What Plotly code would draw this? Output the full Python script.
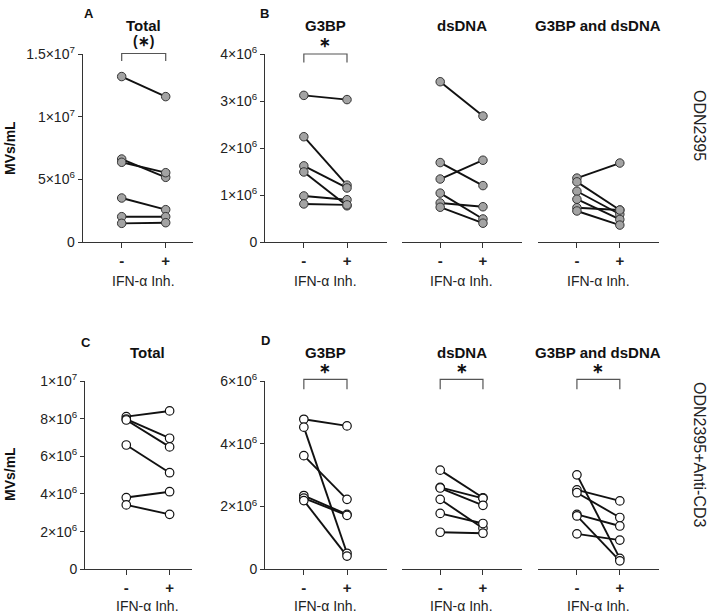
import plotly.graph_objects as go

W, H = 708, 615

# ---------------- data ----------------
categories = ["-", "+"]
cat_pos = [0, 1]

# Row 1: ODN2395 (filled markers)
odn_total_minus = [13.2e6, 6.62e6, 6.36e6, 3.51e6, 2.02e6, 1.49e6]
odn_total_plus = [11.6e6, 5.16e6, 5.53e6, 2.58e6, 2.02e6, 1.54e6]
odn_g3bp_minus = [3.12e6, 2.24e6, 1.62e6, 1.49e6, 0.98e6, 0.81e6]
odn_g3bp_plus = [3.03e6, 1.21e6, 1.15e6, 0.77e6, 0.90e6, 0.79e6]
odn_dsdna_minus = [3.41e6, 1.69e6, 1.34e6, 1.04e6, 0.83e6, 0.74e6]
odn_dsdna_plus = [2.68e6, 1.20e6, 1.74e6, 0.49e6, 0.75e6, 0.40e6]
odn_both_minus = [1.36e6, 1.28e6, 1.08e6, 0.91e6, 0.73e6, 0.66e6]
odn_both_plus = [1.68e6, 0.68e6, 0.59e6, 0.48e6, 0.68e6, 0.36e6]

# Row 2: ODN2395+Anti-CD3 (open markers)
cd3_total_minus = [8.11e6, 7.98e6, 7.93e6, 6.60e6, 3.81e6, 3.42e6]
cd3_total_plus = [8.41e6, 6.96e6, 6.50e6, 5.13e6, 4.12e6, 2.92e6]
cd3_g3bp_minus = [4.78e6, 4.53e6, 3.62e6, 2.35e6, 2.27e6, 2.19e6]
cd3_g3bp_plus = [4.57e6, 0.51e6, 2.23e6, 1.75e6, 1.72e6, 0.42e6]
cd3_dsdna_minus = [3.16e6, 2.61e6, 2.59e6, 2.23e6, 1.78e6, 1.18e6]
cd3_dsdna_plus = [2.28e6, 2.26e6, 2.04e6, 1.31e6, 1.46e6, 1.15e6]
cd3_both_minus = [3.01e6, 2.53e6, 2.44e6, 1.75e6, 1.70e6, 1.13e6]
cd3_both_plus = [0.35e6, 2.18e6, 1.65e6, 1.38e6, 0.27e6, 0.93e6]

panel_titles = ["Total", "G3BP", "dsDNA", "G3BP and dsDNA"]
row_labels = ["ODN2395", "ODN2395+Anti-CD3"]
x_title = "IFN-α Inh."
y_title = "MVs/mL"

ticks_A = [0, 5e6, 1e7, 1.5e7]
ticktext_A = ["0", "5×10<sup>6</sup>", "1×10<sup>7</sup>", "1.5×10<sup>7</sup>"]
ticks_B = [0, 1e6, 2e6, 3e6, 4e6]
ticktext_B = ["0", "1×10<sup>6</sup>", "2×10<sup>6</sup>", "3×10<sup>6</sup>", "4×10<sup>6</sup>"]
ticks_C = [0, 2e6, 4e6, 6e6, 8e6, 1e7]
ticktext_C = ["0", "2×10<sup>6</sup>", "4×10<sup>6</sup>", "6×10<sup>6</sup>", "8×10<sup>6</sup>", "1×10<sup>7</sup>"]
ticks_D = [0, 2e6, 4e6, 6e6]
ticktext_D = ["0", "2×10<sup>6</sup>", "4×10<sup>6</sup>", "6×10<sup>6</sup>"]

# ---------------- layout helpers ----------------
FONT = "Arial, Liberation Sans, sans-serif"
AX = "#333333"

def px_x(p):
    return p / W

def px_y(p):
    return 1 - p / H

row1_y = [px_y(242), px_y(54)]
row2_y = [px_y(569.3), px_y(381)]
rng_side = [-0.9, 1.92]

subplots = [
    # (minus, plus, xdomain px, xrange, ydomain, yrange, ticks, ticktext, show_y, filled)
    (odn_total_minus, odn_total_plus, (82.7, 193), [-0.886, 1.62], row1_y, [0, 1.5e7], ticks_A, ticktext_A, True, True),
    (odn_g3bp_minus, odn_g3bp_plus, (265, 386.7), rng_side, row1_y, [0, 4e6], ticks_B, ticktext_B, True, True),
    (odn_dsdna_minus, odn_dsdna_plus, (401.7, 522.3), rng_side, row1_y, [0, 4e6], ticks_B, ticktext_B, False, True),
    (odn_both_minus, odn_both_plus, (538.3, 659.3), rng_side, row1_y, [0, 4e6], ticks_B, ticktext_B, False, True),
    (cd3_total_minus, cd3_total_plus, (85, 191.7), [-0.953, 1.51], row2_y, [0, 1e7], ticks_C, ticktext_C, True, False),
    (cd3_g3bp_minus, cd3_g3bp_plus, (265, 386.7), rng_side, row2_y, [0, 6e6], ticks_D, ticktext_D, True, False),
    (cd3_dsdna_minus, cd3_dsdna_plus, (401.7, 522.3), rng_side, row2_y, [0, 6e6], ticks_D, ticktext_D, False, False),
    (cd3_both_minus, cd3_both_plus, (538.3, 659.3), rng_side, row2_y, [0, 6e6], ticks_D, ticktext_D, False, False),
]

fig = go.Figure()
layout = dict(
    width=W, height=H, autosize=False,
    margin=dict(l=0, r=0, t=0, b=0),
    paper_bgcolor="white", plot_bgcolor="white",
    showlegend=False,
    font=dict(family=FONT, color="#222222"),
)

annotations = []
shapes = []

def data_to_paper_x(x, dom_px, rng):
    d0, d1 = dom_px
    return (d0 + (x - rng[0]) / (rng[1] - rng[0]) * (d1 - d0)) / W

for i, (mn, pl, dom, xr, ydom, yr, tv, tt, show_y, filled) in enumerate(subplots):
    n = i + 1
    xa = "x" if n == 1 else f"x{n}"
    ya = "y" if n == 1 else f"y{n}"
    xkey = "xaxis" if n == 1 else f"xaxis{n}"
    ykey = "yaxis" if n == 1 else f"yaxis{n}"
    lx, ly = [], []
    mx, my = [], []
    for a, b in zip(mn, pl):
        lx += [cat_pos[0], cat_pos[1], None]
        ly += [a, b, None]
        mx += [cat_pos[0], cat_pos[1]]
        my += [a, b]
    fig.add_trace(go.Scatter(x=lx, y=ly, mode="lines", xaxis=xa, yaxis=ya,
                             line=dict(color="#111111", width=1.9), hoverinfo="skip"))
    if filled:
        marker = dict(size=8.5, color="#a3a3a3", line=dict(color="#333333", width=1))
    else:
        marker = dict(size=8.5, color="white", line=dict(color="#111111", width=1.2))
    fig.add_trace(go.Scatter(x=mx, y=my, mode="markers", xaxis=xa, yaxis=ya,
                             marker=marker, cliponaxis=False))
    layout[xkey] = dict(
        domain=[dom[0] / W, dom[1] / W], range=xr, anchor=ya,
        showline=True, linecolor=AX, linewidth=1, mirror=False,
        showgrid=False, zeroline=False, ticks="outside", ticklen=5, tickcolor=AX,
        tickvals=cat_pos, ticktext=["<b>%s</b>" % c for c in categories],
        tickfont=dict(size=15, color="#222222", family=FONT), automargin=False,
        fixedrange=True,
    )
    layout[ykey] = dict(
        domain=ydom, range=yr, anchor=xa,
        showline=show_y, linecolor=AX, linewidth=1,
        showgrid=False, zeroline=False,
        ticks="outside" if show_y else "", ticklen=4, tickcolor=AX,
        tickvals=tv, ticktext=tt, showticklabels=show_y,
        tickfont=dict(size=14, color="#222222", family=FONT), automargin=False,
        fixedrange=True,
    )
    # x axis title
    row_bottom_text = 281 if ydom is row1_y else 606
    annotations.append(dict(text=x_title, xref=xa, x=0.5, yref="paper", y=px_y(row_bottom_text),
                            showarrow=False, xanchor="center", yanchor="middle",
                            font=dict(size=14, color="#222222", family=FONT)))
    # panel titles
    ttl = panel_titles[i % 4]
    ty = 26 if ydom is row1_y else 352
    annotations.append(dict(text="<b>%s</b>" % ttl, xref=xa, x=0.5, yref="paper", y=px_y(ty),
                            showarrow=False, xanchor="center", yanchor="middle",
                            font=dict(size=15, color="#111111", family=FONT)))

# significance brackets and stars
sig = [
    # (subplot index, top px, bottom px, star text, star y px)
    (0, 53.5, 61, "(∗)", 41),
    (1, 54, 62.5, "∗", 42),
    (5, 379.3, 389.3, "∗", 368),
    (6, 379.3, 389.3, "∗", 368),
    (7, 379.3, 389.3, "∗", 368),
]
for idx, top, bot, star, sy in sig:
    dom, xr = subplots[idx][2], subplots[idx][3]
    x0 = data_to_paper_x(cat_pos[0], dom, xr)
    x1 = data_to_paper_x(cat_pos[1], dom, xr)
    shapes.append(dict(type="path", xref="paper", yref="paper",
                       path=f"M {x0},{px_y(bot)} L {x0},{px_y(top)} L {x1},{px_y(top)} L {x1},{px_y(bot)}",
                       line=dict(color="#555555", width=1.2)))
    annotations.append(dict(text="<b>%s</b>" % star, xref="paper", x=(x0 + x1) / 2, yref="paper", y=px_y(sy),
                            showarrow=False, xanchor="center", yanchor="middle",
                            font=dict(size=14, color="#111111", family=FONT)))

# panel letters
for letter, lx_, ly_ in [("A", 89, 14), ("B", 264, 14), ("C", 86, 342), ("D", 265, 340)]:
    annotations.append(dict(text="<b>%s</b>" % letter, xref="paper", x=px_x(lx_), yref="paper", y=px_y(ly_),
                            showarrow=False, xanchor="center", yanchor="middle",
                            font=dict(size=13, color="#111111", family=FONT)))

# y axis titles
for ty in (148, 474):
    annotations.append(dict(text="<b>%s</b>" % y_title, xref="paper", x=px_x(10), yref="paper", y=px_y(ty),
                            showarrow=False, xanchor="center", yanchor="middle", textangle=-90,
                            font=dict(size=14, color="#111111", family=FONT)))

# row labels on the right
for lab, ty in zip(row_labels, (125, 455)):
    annotations.append(dict(text=lab, xref="paper", x=px_x(700), yref="paper", y=px_y(ty),
                            showarrow=False, xanchor="center", yanchor="middle", textangle=90,
                            font=dict(size=16, color="#222222", family=FONT)))

layout["annotations"] = annotations
layout["shapes"] = shapes
fig.update_layout(**layout)

# remove the default browser page margin so the 708x615 figure fills the window exactly
fig.write_html("out.html",
               config={"displayModeBar": False, "staticPlot": True},
               post_script="document.body.style.margin='0';document.body.style.overflow='hidden';")
